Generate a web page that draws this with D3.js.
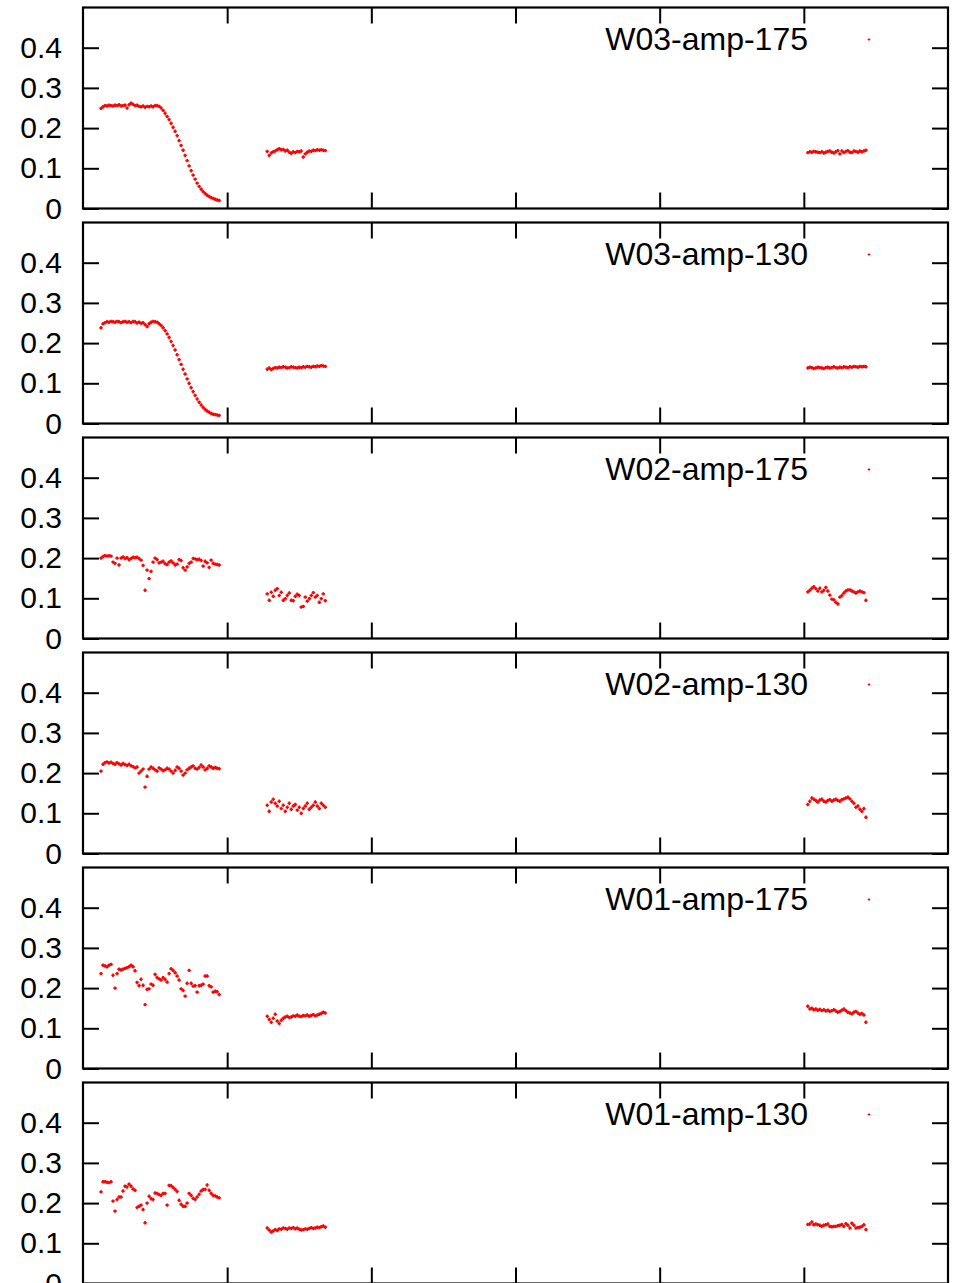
<!DOCTYPE html>
<html><head><meta charset="utf-8">
<script src="https://cdn.jsdelivr.net/npm/d3@7"></script>
<style>body{margin:0;background:#fff}svg{display:block}text{font-family:"Liberation Sans",Arial,Helvetica,sans-serif}</style>
</head><body>
<svg id="c" width="972" height="1283"></svg>
<script>
// ---- data ----
const panelLabels = ["W03-amp-175","W03-amp-130","W02-amp-175","W02-amp-130","W01-amp-175","W01-amp-130"];
const xTicks = [72,144,216,288,360];
const yTicks = [0,0.1,0.2,0.3,0.4];
const yTickLabels = ["0","0.1","0.2","0.3","0.4"];

// sample positions of the three clusters
const xA = [9,10,11,12,13,14,15,16,17,18,19,20,21,22,23,24,25,26,27,28,29,30,31,32,33,34,35,36,37,38,39,40,41,42,43,44,45,46,47,48,49,50,51,52,53,54,55,56,57,58,59,60,61,62,63,64,65,66,67,68];
const xB = [92,93,94,95,96,97,98,99,100,101,102,103,104,105,106,107,108,109,110,111,112,113,114,115,116,117,118,119,120,121];
const xC = [362,363,364,365,366,367,368,369,370,371,372,373,374,375,376,377,378,379,380,381,382,383,384,385,386,387,388,389,390,391];

const w03_175_A = [0.249,0.253,0.256,0.255,0.257,0.256,0.255,0.257,0.256,0.258,0.255,0.256,0.257,0.250,0.258,0.262,0.259,0.256,0.257,0.254,0.253,0.255,0.252,0.254,0.253,0.255,0.253,0.256,0.256,0.254,0.250,0.244,0.237,0.229,0.221,0.212,0.202,0.192,0.181,0.169,0.157,0.145,0.132,0.119,0.106,0.094,0.083,0.073,0.063,0.055,0.048,0.042,0.037,0.033,0.030,0.027,0.025,0.023,0.021,0.020];
const w03_175_B = [0.142,0.132,0.138,0.141,0.143,0.146,0.149,0.146,0.147,0.143,0.145,0.140,0.137,0.141,0.139,0.142,0.141,0.143,0.128,0.136,0.140,0.143,0.142,0.145,0.144,0.146,0.145,0.146,0.145,0.144];
const w03_175_C = [0.139,0.141,0.140,0.142,0.141,0.140,0.139,0.141,0.138,0.140,0.142,0.143,0.140,0.138,0.141,0.144,0.136,0.143,0.139,0.142,0.144,0.140,0.139,0.143,0.142,0.140,0.143,0.141,0.143,0.145];

const w03_130_A = [0.238,0.248,0.251,0.253,0.252,0.254,0.253,0.252,0.254,0.253,0.251,0.253,0.254,0.252,0.253,0.251,0.254,0.253,0.250,0.252,0.249,0.251,0.246,0.241,0.248,0.252,0.254,0.253,0.252,0.248,0.244,0.238,0.231,0.223,0.214,0.204,0.194,0.183,0.171,0.159,0.147,0.135,0.123,0.111,0.100,0.089,0.079,0.070,0.061,0.053,0.046,0.040,0.035,0.031,0.028,0.025,0.023,0.022,0.021,0.020];
const w03_130_B = [0.135,0.138,0.134,0.137,0.139,0.138,0.140,0.139,0.141,0.140,0.138,0.139,0.141,0.140,0.139,0.138,0.140,0.139,0.141,0.140,0.142,0.141,0.140,0.142,0.141,0.143,0.142,0.144,0.143,0.142];
const w03_130_C = [0.138,0.140,0.139,0.137,0.138,0.140,0.139,0.138,0.137,0.139,0.140,0.138,0.139,0.141,0.139,0.138,0.140,0.139,0.141,0.140,0.139,0.141,0.140,0.142,0.141,0.140,0.142,0.141,0.142,0.141];

const w02_175_A = [0.200,0.204,0.206,0.205,0.206,0.205,0.190,0.187,0.200,0.183,0.200,0.203,0.199,0.201,0.196,0.199,0.202,0.201,0.202,0.199,0.195,0.182,0.120,0.170,0.149,0.167,0.190,0.200,0.196,0.188,0.190,0.192,0.186,0.184,0.190,0.193,0.188,0.183,0.185,0.196,0.194,0.176,0.170,0.178,0.187,0.190,0.199,0.198,0.196,0.197,0.194,0.180,0.192,0.188,0.177,0.195,0.187,0.185,0.184,0.183];
const w02_175_B = [0.111,0.095,0.115,0.105,0.120,0.124,0.107,0.115,0.095,0.099,0.107,0.113,0.095,0.094,0.105,0.110,0.107,0.078,0.080,0.103,0.093,0.099,0.107,0.114,0.103,0.107,0.090,0.099,0.111,0.094];
const w02_175_C = [0.116,0.120,0.125,0.129,0.124,0.118,0.125,0.116,0.120,0.127,0.118,0.108,0.098,0.096,0.090,0.086,0.103,0.107,0.113,0.118,0.121,0.121,0.118,0.116,0.113,0.116,0.118,0.116,0.114,0.095];

const w02_130_A = [0.205,0.222,0.226,0.228,0.225,0.227,0.224,0.222,0.226,0.223,0.220,0.224,0.221,0.219,0.222,0.218,0.216,0.213,0.215,0.200,0.205,0.210,0.165,0.192,0.210,0.215,0.212,0.208,0.205,0.213,0.210,0.206,0.208,0.212,0.210,0.205,0.200,0.207,0.215,0.212,0.205,0.195,0.200,0.208,0.212,0.215,0.218,0.212,0.210,0.214,0.220,0.215,0.208,0.212,0.218,0.215,0.212,0.214,0.212,0.211];
const w02_130_B = [0.120,0.105,0.128,0.135,0.125,0.118,0.130,0.112,0.120,0.105,0.115,0.125,0.110,0.118,0.122,0.108,0.115,0.100,0.112,0.118,0.125,0.110,0.115,0.120,0.128,0.118,0.112,0.125,0.120,0.115];
const w02_130_C = [0.122,0.130,0.138,0.135,0.132,0.128,0.133,0.135,0.130,0.128,0.132,0.134,0.130,0.133,0.135,0.132,0.130,0.134,0.136,0.138,0.140,0.136,0.130,0.125,0.115,0.118,0.110,0.105,0.112,0.090];

const w01_175_A = [0.236,0.257,0.255,0.253,0.257,0.259,0.232,0.200,0.236,0.247,0.245,0.247,0.249,0.251,0.253,0.257,0.253,0.243,0.214,0.206,0.222,0.207,0.159,0.197,0.198,0.210,0.207,0.234,0.226,0.223,0.220,0.226,0.222,0.215,0.236,0.248,0.244,0.238,0.230,0.220,0.198,0.194,0.180,0.212,0.244,0.212,0.205,0.206,0.190,0.206,0.207,0.210,0.230,0.230,0.206,0.203,0.190,0.192,0.191,0.184];
const w01_175_B = [0.130,0.122,0.115,0.125,0.135,0.118,0.112,0.120,0.125,0.128,0.130,0.127,0.128,0.131,0.130,0.133,0.130,0.129,0.132,0.131,0.133,0.130,0.132,0.134,0.131,0.133,0.135,0.137,0.140,0.138];
const w01_175_C = [0.155,0.148,0.150,0.146,0.148,0.145,0.147,0.144,0.146,0.143,0.145,0.142,0.144,0.146,0.143,0.140,0.142,0.145,0.148,0.144,0.140,0.138,0.136,0.140,0.142,0.138,0.135,0.137,0.133,0.115];

const w01_130_A = [0.228,0.253,0.253,0.252,0.251,0.253,0.205,0.180,0.209,0.215,0.215,0.230,0.242,0.240,0.247,0.242,0.235,0.232,0.189,0.192,0.195,0.184,0.151,0.200,0.217,0.211,0.209,0.225,0.224,0.221,0.219,0.224,0.224,0.195,0.244,0.243,0.239,0.234,0.229,0.207,0.197,0.192,0.192,0.200,0.224,0.219,0.212,0.209,0.215,0.222,0.230,0.234,0.234,0.245,0.232,0.224,0.219,0.218,0.215,0.213];
const w01_130_B = [0.138,0.133,0.128,0.131,0.134,0.132,0.136,0.135,0.138,0.137,0.135,0.138,0.137,0.139,0.136,0.138,0.135,0.133,0.134,0.136,0.135,0.137,0.139,0.137,0.138,0.140,0.139,0.141,0.143,0.140];
const w01_130_C = [0.147,0.148,0.153,0.146,0.148,0.146,0.145,0.142,0.145,0.146,0.148,0.142,0.141,0.142,0.142,0.144,0.145,0.147,0.142,0.149,0.145,0.138,0.150,0.145,0.138,0.139,0.140,0.142,0.146,0.134];

const panelSeries = [
  [w03_175_A,w03_175_B,w03_175_C],
  [w03_130_A,w03_130_B,w03_130_C],
  [w02_175_A,w02_175_B,w02_175_C],
  [w02_130_A,w02_130_B,w02_130_C],
  [w01_175_A,w01_175_B,w01_175_C],
  [w01_130_A,w01_130_B,w01_130_C]
];
const clusterX = [xA,xB,xC];

// ---- layout ----
const svg = d3.select("#c");
const left = 83, right = 948, panelH = 201, top0 = 7.5, step = 215, tick = 16;
const x = d3.scaleLinear().domain([0,432]).range([left,right]);
const plus = "M-1.7,0H1.7M0,-1.7V1.7";

panelSeries.forEach((series,i)=>{
  const t = top0 + i*step;
  const y = d3.scaleLinear().domain([0,0.5]).range([t+panelH,t]);
  const g = svg.append("g");

  const styleAxis = sel => {
    sel.select(".domain").remove();
    sel.selectAll("line").attr("stroke","#000").attr("stroke-width",2);
    sel.selectAll("text").attr("font-size",30).attr("fill","#000")
       .attr("font-family",'"Liberation Sans",Arial,Helvetica,sans-serif');
  };
  g.append("g").attr("transform",`translate(${left},0)`)
    .call(d3.axisLeft(y).tickValues(yTicks).tickFormat((d,j)=>yTickLabels[j]).tickSizeInner(-tick).tickSizeOuter(0).tickPadding(21))
    .call(styleAxis);
  g.append("g").attr("transform",`translate(${right},0)`)
    .call(d3.axisRight(y).tickValues(yTicks).tickFormat("").tickSizeInner(-tick).tickSizeOuter(0))
    .call(styleAxis);
  g.append("g").attr("transform",`translate(0,${t+panelH})`)
    .call(d3.axisBottom(x).tickValues(xTicks).tickFormat("").tickSizeInner(-tick).tickSizeOuter(0))
    .call(styleAxis);
  g.append("g").attr("transform",`translate(0,${t})`)
    .call(d3.axisTop(x).tickValues(xTicks).tickFormat("").tickSizeInner(-tick).tickSizeOuter(0))
    .call(styleAxis);

  g.append("rect").attr("x",left).attr("y",t).attr("width",right-left).attr("height",panelH)
    .attr("fill","none").attr("stroke","#000").attr("stroke-width",2.2);

  series.forEach((vals,k)=>{
    const xs = clusterX[k];
    g.append("g").selectAll("path").data(vals).join("path")
      .attr("d",plus)
      .attr("transform",(d,j)=>`translate(${x(xs[j])},${y(d)})`)
      .attr("stroke","#ff0000").attr("stroke-width",1.7).attr("fill","none");
  });

  // key
  g.append("text").attr("x",808).attr("y",t+42).attr("text-anchor","end")
    .attr("font-size",32).attr("fill","#000").text(panelLabels[i]);
  g.append("path").attr("d","M-1.3,0H1.3M0,-1.3V1.3").attr("transform",`translate(869,${t+32})`)
    .attr("stroke","#ff0000").attr("stroke-width",1.1);
});
</script>
</body></html>
